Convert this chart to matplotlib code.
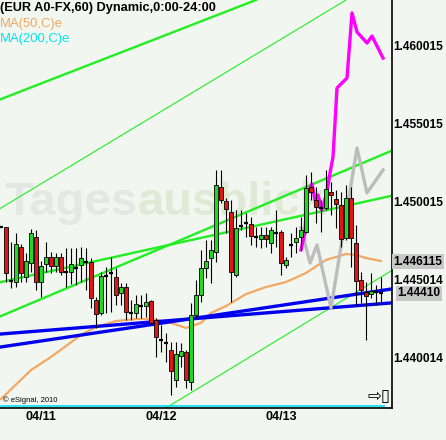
#!/usr/bin/env python
"""
EUR A0-FX hourly candles with trend lines, MA(50) and two projection paths.
"""
import matplotlib
matplotlib.use("Agg")
import matplotlib.pyplot as plt

# Hourly candles (bar index 0 = first partially visible bar)
opens = [1.44835, 1.44835, 1.44489, 1.44482, 1.44707, 1.44514, 1.44604, 1.44771, 1.44482, 1.44598,
         1.44643, 1.44585, 1.44643, 1.44547, 1.44547, 1.44572, 1.44591, 1.44611, 1.44611, 1.44367,
         1.44284, 1.44521, 1.44540, 1.44514, 1.44412, 1.44450, 1.44284, 1.44284, 1.44328, 1.44328,
         1.44360, 1.44239, 1.44111, 1.44092, 1.44046, 1.43854, 1.44008, 1.44033, 1.43841, 1.44271,
         1.44399, 1.44572, 1.44636, 1.44675, 1.45091, 1.45002, 1.44931, 1.44527, 1.44841, 1.44861,
         1.44854, 1.44771, 1.44758, 1.44784, 1.44732, 1.44796, 1.44803, 1.44591, 1.44720, 1.44739,
         1.44771, 1.44803, 1.45091, 1.45008, 1.44957, 1.44957, 1.45059, 1.45014, 1.44976, 1.44764,
         1.45021, 1.44732, 1.44495, 1.44418, 1.44405, 1.44418, 1.44410]
highs = [1.44835, 1.44835, 1.44739, 1.44796, 1.44726, 1.44668, 1.44822, 1.44816, 1.44617, 1.44739,
         1.44675, 1.44668, 1.44668, 1.44700, 1.44700, 1.44700, 1.44707, 1.44700, 1.44636, 1.44386,
         1.44547, 1.44579, 1.44643, 1.44572, 1.44476, 1.44476, 1.44367, 1.44399, 1.44399, 1.44412,
         1.44367, 1.44252, 1.44207, 1.44155, 1.44098, 1.44098, 1.44092, 1.44046, 1.44348, 1.44495,
         1.44688, 1.44752, 1.44752, 1.45200, 1.45200, 1.45021, 1.45008, 1.44944, 1.44944, 1.44925,
         1.44899, 1.44835, 1.44835, 1.44835, 1.44835, 1.44944, 1.44816, 1.44643, 1.44796, 1.44835,
         1.44899, 1.45168, 1.45187, 1.45091, 1.45008, 1.45200, 1.45123, 1.45072, 1.45059, 1.45104,
         1.45091, 1.44848, 1.44547, 1.44482, 1.44540, 1.44463, 1.44514]
lows = [1.44835, 1.44482, 1.44444, 1.44450, 1.44482, 1.44482, 1.44547, 1.44431, 1.44386, 1.44547,
        1.44540, 1.44547, 1.44527, 1.44450, 1.44470, 1.44463, 1.44482, 1.44431, 1.44316, 1.44188,
        1.44271, 1.44284, 1.44290, 1.44335, 1.44335, 1.44239, 1.44239, 1.44252, 1.44252, 1.44258,
        1.44207, 1.44002, 1.44033, 1.43970, 1.43758, 1.43809, 1.43938, 1.43803, 1.43790, 1.44252,
        1.44354, 1.44508, 1.44476, 1.44611, 1.44989, 1.44796, 1.44354, 1.44514, 1.44816, 1.44771,
        1.44720, 1.44707, 1.44700, 1.44707, 1.44668, 1.44707, 1.44527, 1.44572, 1.44643, 1.44668,
        1.44688, 1.44796, 1.45008, 1.44861, 1.44803, 1.44944, 1.44912, 1.44828, 1.44707, 1.44752,
        1.44579, 1.44335, 1.44348, 1.44111, 1.44380, 1.44335, 1.44348]
closes = [1.44835, 1.44540, 1.44489, 1.44726, 1.44540, 1.44617, 1.44796, 1.44482, 1.44585, 1.44643,
          1.44585, 1.44643, 1.44547, 1.44547, 1.44598, 1.44572, 1.44636, 1.44611, 1.44380, 1.44277,
          1.44521, 1.44521, 1.44540, 1.44399, 1.44450, 1.44290, 1.44284, 1.44341, 1.44328, 1.44354,
          1.44220, 1.44130, 1.44111, 1.44092, 1.43912, 1.44021, 1.44040, 1.43854, 1.44271, 1.44399,
          1.44572, 1.44617, 1.44688, 1.45104, 1.45008, 1.44950, 1.44547, 1.44828, 1.44841, 1.44861,
          1.44777, 1.44771, 1.44784, 1.44758, 1.44816, 1.44796, 1.44604, 1.44624, 1.44720, 1.44764,
          1.44816, 1.45085, 1.45059, 1.44963, 1.44957, 1.45078, 1.45040, 1.44982, 1.44758, 1.45021,
          1.44764, 1.44489, 1.44431, 1.44392, 1.44425, 1.44418, 1.44410]

# MA(50,C) readings
ma50_bar = [0, 6, 10, 13, 16, 19, 23, 27, 30, 34, 37, 40, 42, 45, 49, 53, 57, 61, 65, 69, 71, 73, 76]
ma50_val = [1.43732, 1.43918, 1.44002, 1.44072, 1.44143, 1.44194, 1.44232, 1.44245, 1.44245, 1.44220,
            1.44188, 1.44220, 1.44284, 1.44328, 1.44405, 1.44450, 1.44482, 1.44540, 1.44624, 1.44662,
            1.44656, 1.44636, 1.44617]

# trend lines: two anchor points each (bar, price)
blue_lines = [((0, 1.44149), (78, 1.44348)),
              ((0, 1.44066), (78, 1.44437))]
green_thick = [((0, 1.45655), (51, 1.46290)),
               ((0, 1.44482), (78, 1.45034)),
               ((0, 1.44264), (78, 1.45322))]
green_thin = [((0, 1.44957), (69, 1.46290)),
              ((33, 1.43675), (78, 1.44553))]

# projection paths
magenta_bar = [60.0, 60.8, 61.2, 62.2, 62.8, 63.4, 64.2, 65.2, 65.8, 66.4, 66.8, 67.2, 69.2, 70.2,
               71.2, 73.2, 74.2, 76.4]
magenta_val = [1.44688, 1.44803, 1.45040, 1.45111, 1.45008, 1.45040, 1.44944, 1.45059, 1.45181,
               1.45284, 1.45502, 1.45726, 1.45790, 1.46207, 1.46085, 1.46014, 1.46059, 1.45918]
grey_bar = [60.0, 61.8, 63.2, 66.0, 71.2, 73.2, 76.4]
grey_val = [1.44829, 1.44604, 1.44720, 1.44316, 1.45341, 1.45053, 1.45200]

# axis labels
price_ticks = [1.460015, 1.455015, 1.450015, 1.445014, 1.440014]
price_labels = ['1.460015', '1.455015', '1.450015', '1.445014', '1.440014']
last_ma = 1.446115
last_close = 1.44410
day_ticks = [8, 32, 56]
day_labels = ['04/11', '04/12', '04/13']

BG = '#f1f6f0'
UP = '#22d822'
DOWN = '#e01515'
FONT = ['Liberation Sans', 'DejaVu Sans']

fig = plt.figure(figsize=(4.46, 4.40), dpi=100, facecolor=BG)
ax = fig.add_axes([0, 32 / 440, 392 / 446, 408 / 440], facecolor=BG)
ax.set_xlim(-0.2, 78.2)
ax.set_ylim(1.436746, 1.462900)

# watermark
ax.text(0.352, 0.503, 'Tages', transform=ax.transAxes, ha='right', va='center',
        fontsize=34, fontweight='bold', color='#e3e8e3', family=FONT, zorder=0)
ax.text(0.352, 0.503, 'ausblick', transform=ax.transAxes, ha='left', va='center',
        fontsize=34, fontweight='bold', color='#dfeAd6', family=FONT, zorder=0)

# trend lines
for p1, p2 in green_thin:
    ax.axline(p1, p2, color='#22ee22', lw=0.8, zorder=1)
for p1, p2 in green_thick:
    ax.axline(p1, p2, color='#22ee22', lw=1.7, zorder=1)
ax.plot(ma50_bar, ma50_val, color='#f4a862', lw=1.6, zorder=2)
for p1, p2 in blue_lines:
    ax.axline(p1, p2, color='#0000ee', lw=2.4, zorder=3)

# projections
ax.plot(grey_bar, grey_val, color='#bcbcbc', lw=2.4, zorder=3)
ax.plot(magenta_bar, magenta_val, color='#ff00ff', lw=2.4, zorder=3)

# candles
for i in range(len(opens)):
    o, h, l, c = opens[i], highs[i], lows[i], closes[i]
    ax.vlines(i, l, h, color='black', lw=0.8, zorder=4)
    if abs(c - o) < 0.00004:
        ax.hlines(c, i - 0.4, i + 0.4, color='black', lw=1.6, zorder=5)
    else:
        ax.bar(i, abs(c - o), bottom=min(o, c), width=0.7,
               color=UP if c > o else DOWN, edgecolor='black', lw=0.6, zorder=5)

# MA(200) pinned at the bottom edge
ax.plot([0, 0.98], [0.004, 0.004], transform=ax.transAxes, color='#00e0f0', lw=1.2, zorder=6)

# frame
for s in ['left', 'top']:
    ax.spines[s].set_visible(False)
ax.spines['right'].set_linewidth(1.2)
ax.spines['bottom'].set_linewidth(1.2)

ax.yaxis.tick_right()
ax.set_yticks(price_ticks)
ax.set_yticklabels(price_labels, fontsize=8.6, fontweight='bold', family=FONT)
ax.set_xticks(day_ticks)
ax.set_xticklabels(day_labels, fontsize=9, fontweight='bold', family=FONT)
ax.tick_params(axis='y', length=0, pad=0.8)
ax.tick_params(axis='x', length=0, pad=2)

for val, txt, xx in [(last_ma, '1.446115', 1.004), (last_close, '1.44410', 1.013)]:
    ax.text(xx, val, txt, transform=ax.get_yaxis_transform(), ha='left', va='center',
            fontsize=8.6, fontweight='bold', family=FONT, clip_on=False, zorder=10,
            bbox=dict(boxstyle='square,pad=0.12', fc='#c8c8c8', ec='none'))

# header
ax.text(0.0, 0.995, '(EUR A0-FX,60) Dynamic,0:00-24:00', transform=ax.transAxes,
        ha='left', va='top', fontsize=9.2, fontweight='bold', family=FONT, zorder=10)
ax.text(0.0, 0.957, 'MA(50,C)e', transform=ax.transAxes, ha='left', va='top',
        fontsize=9.4, color='#f4a862', family=FONT, zorder=10)
ax.text(0.0, 0.918, 'MA(200,C)e', transform=ax.transAxes, ha='left', va='top',
        fontsize=9.4, color='#00e6f0', family=FONT, zorder=10)
ax.text(0.008, 0.018, '\u00a9 eSignal, 2010', transform=ax.transAxes, ha='left', va='center',
        fontsize=5.5, family=FONT, zorder=10)
ax.text(0.995, 0.03, '\u21e8\u25af', transform=ax.transAxes, ha='right', va='center',
        fontsize=12, family=['DejaVu Sans'], zorder=10)

plt.savefig('out.png', dpi=100, facecolor=BG)
